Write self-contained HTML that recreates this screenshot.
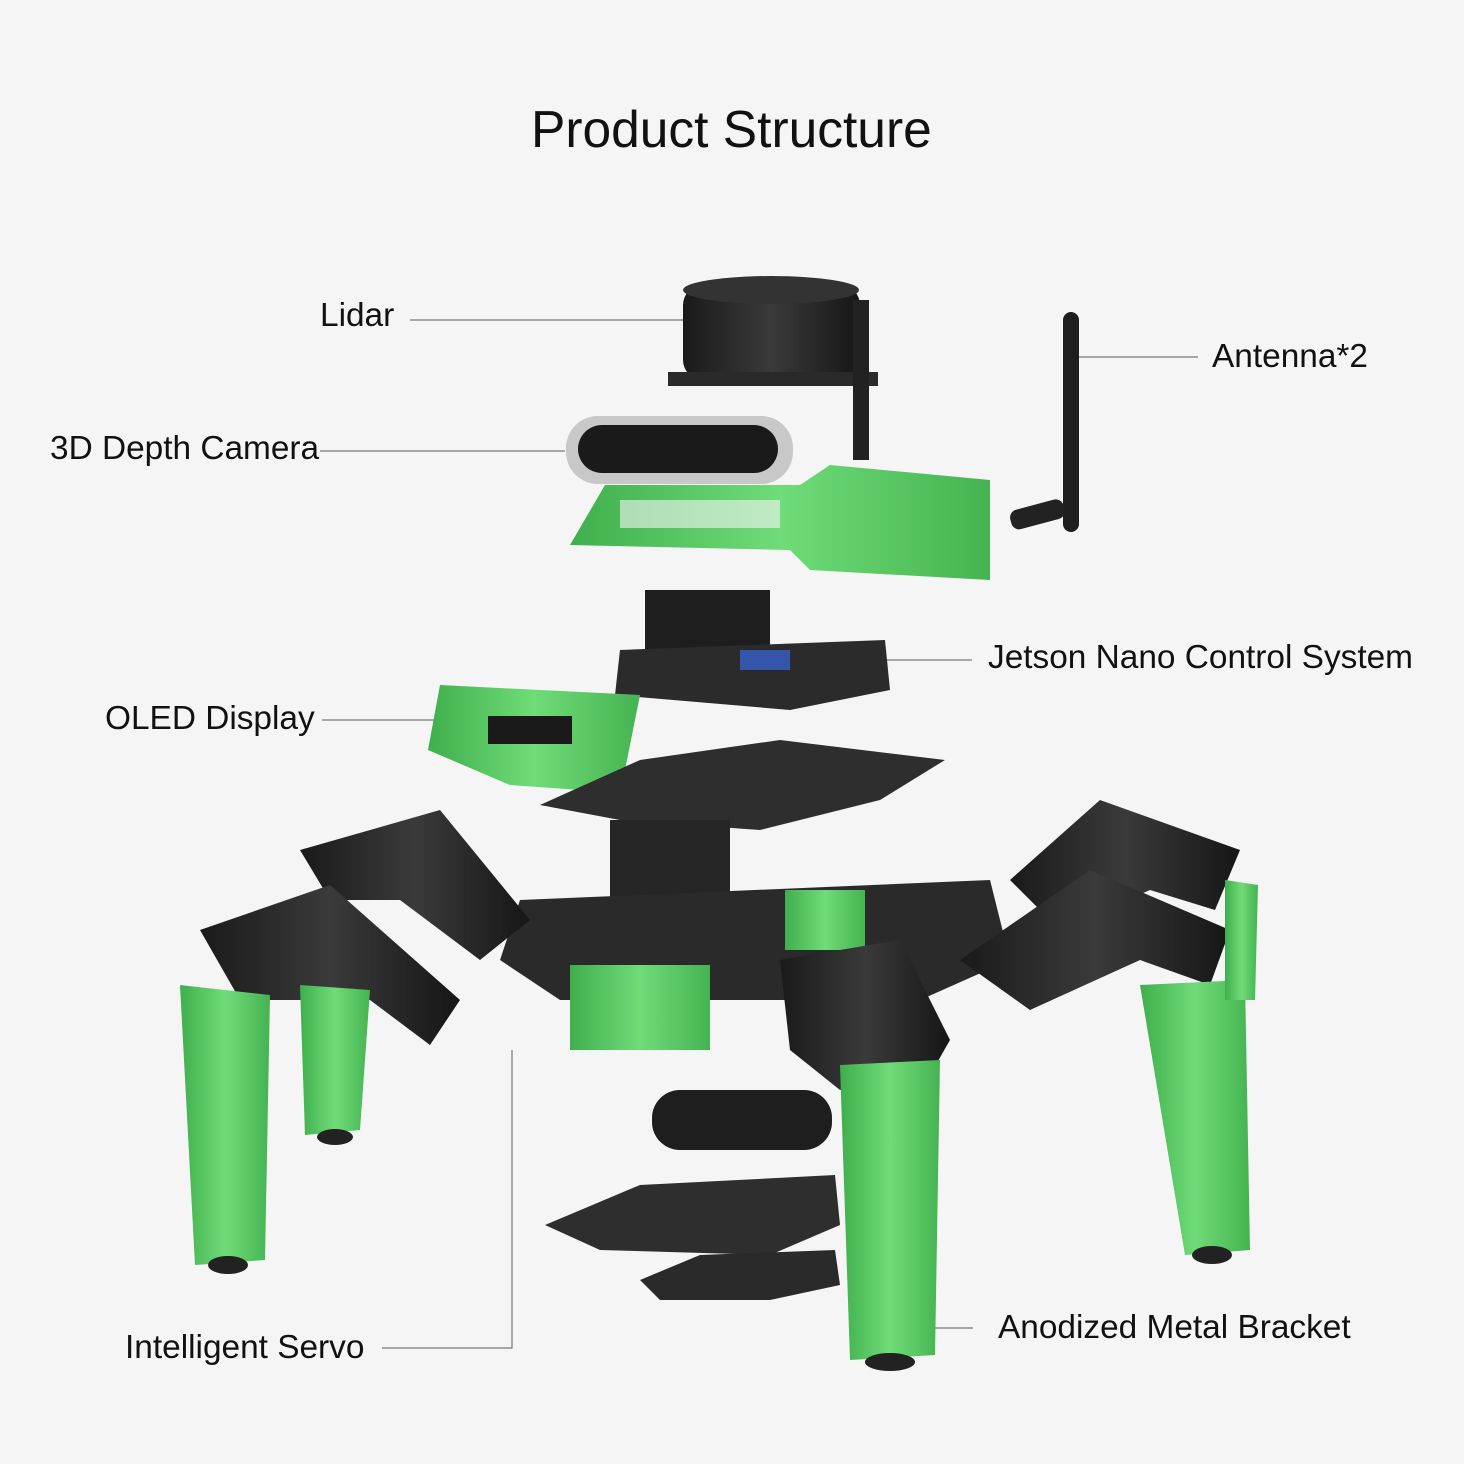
<!DOCTYPE html>
<html><head><meta charset="utf-8"><style>
html,body{margin:0;padding:0;background:#f5f5f5;}
.wrap{position:relative;width:1464px;height:1464px;overflow:hidden;background:#f5f5f5;font-family:"Liberation Sans",sans-serif;color:#111;}
.t{position:absolute;white-space:nowrap;font-size:33.4px;line-height:32px;}
svg{position:absolute;left:0;top:0;}
</style></head><body><div class="wrap">
<svg width="1464" height="1464" viewBox="0 0 1464 1464">
<defs>
<linearGradient id="g" x1="0" x2="1"><stop offset="0" stop-color="#3fae4c"/><stop offset=".5" stop-color="#6fdc78"/><stop offset="1" stop-color="#45b351"/></linearGradient>
<linearGradient id="k" x1="0" x2="1"><stop offset="0" stop-color="#1a1a1a"/><stop offset=".5" stop-color="#3a3a3a"/><stop offset="1" stop-color="#161616"/></linearGradient>
</defs>
<g stroke="#777" stroke-width="1.2" fill="none">
<line x1="410" y1="320" x2="685" y2="320"/>
<line x1="1075" y1="357" x2="1198" y2="357"/>
<line x1="320" y1="451" x2="565" y2="451"/>
<line x1="880" y1="660" x2="972" y2="660"/>
<line x1="322" y1="720" x2="500" y2="720"/>
<polyline points="382,1348 512,1348 512,1050"/>
<line x1="905" y1="1328" x2="973" y2="1328"/>
</g>
<rect x="683" y="285" width="177" height="95" rx="20" fill="url(#k)"/>
<ellipse cx="771" cy="290" rx="88" ry="14" fill="#333"/>
<rect x="668" y="372" width="210" height="14" fill="#2a2a2a"/>
<rect x="853" y="300" width="16" height="160" fill="#222"/>
<rect x="1063" y="312" width="16" height="220" rx="8" fill="#1e1e1e"/>
<rect x="1010" y="505" width="55" height="20" rx="8" fill="#222" transform="rotate(-15 1035 515)"/>
<rect x="566" y="416" width="227" height="68" rx="32" fill="#c8c8c8"/>
<rect x="578" y="425" width="200" height="48" rx="24" fill="#1a1a1a"/>
<polygon points="605,485 800,485 830,465 990,480 990,580 810,570 790,550 570,545" fill="url(#g)"/>
<rect x="620" y="500" width="160" height="28" fill="#f5f5f5" opacity=".6"/>
<rect x="645" y="590" width="125" height="60" fill="#1e1e1e"/>
<polygon points="620,650 885,640 890,690 790,710 615,695" fill="#2b2b2b"/>
<rect x="740" y="650" width="50" height="20" fill="#3355aa"/>
<polygon points="440,685 640,695 625,770 580,790 510,785 428,750" fill="url(#g)"/>
<rect x="488" y="716" width="84" height="28" fill="#1a1a1a"/>
<polygon points="540,805 640,760 780,740 945,760 880,800 760,830 620,820" fill="#2e2e2e"/>
<rect x="610" y="820" width="120" height="80" fill="#262626"/>
<polygon points="520,900 990,880 1010,960 920,1000 560,1000 500,960" fill="#2a2a2a"/>
<rect x="570" y="965" width="140" height="85" fill="url(#g)"/>
<rect x="785" y="890" width="80" height="60" fill="url(#g)"/>
<polygon points="300,850 440,810 530,920 480,960 400,900 330,900" fill="url(#k)"/>
<polygon points="200,930 330,885 460,1000 430,1045 370,1000 240,1000" fill="url(#k)"/>
<polygon points="180,985 270,995 265,1260 195,1265" fill="url(#g)"/>
<polygon points="300,985 370,990 360,1130 305,1135" fill="url(#g)"/>
<ellipse cx="228" cy="1265" rx="20" ry="9" fill="#222"/>
<ellipse cx="335" cy="1137" rx="18" ry="8" fill="#222"/>
<polygon points="1010,880 1100,800 1240,850 1215,910 1150,890 1060,930" fill="url(#k)"/>
<polygon points="960,960 1090,870 1230,930 1210,985 1140,960 1030,1010" fill="url(#k)"/>
<polygon points="1140,985 1245,980 1250,1250 1185,1255" fill="url(#g)"/>
<polygon points="1225,880 1258,885 1255,1000 1225,1000" fill="url(#g)"/>
<ellipse cx="1212" cy="1255" rx="20" ry="9" fill="#222"/>
<polygon points="780,960 900,940 950,1040 930,1075 840,1090 790,1050" fill="url(#k)"/>
<polygon points="840,1065 940,1060 935,1355 850,1360" fill="url(#g)"/>
<ellipse cx="890" cy="1362" rx="25" ry="9" fill="#222"/>
<rect x="652" y="1090" width="180" height="60" rx="28" fill="#1e1e1e"/>
<polygon points="545,1225 640,1185 835,1175 840,1225 770,1255 600,1250" fill="#2e2e2e"/>
<polygon points="640,1280 700,1255 835,1250 840,1285 770,1300 660,1300" fill="#2a2a2a"/>
</svg>
<div class="t" style="left:531px;top:103px;font-size:51.5px;line-height:52px;">Product Structure</div>
<div class="t" style="left:320px;top:300px;">Lidar</div>
<div class="t" style="left:1212px;top:341px;">Antenna*2</div>
<div class="t" style="left:50px;top:433px;">3D Depth Camera</div>
<div class="t" style="left:988px;top:642px;">Jetson Nano Control System</div>
<div class="t" style="left:105px;top:703px;">OLED Display</div>
<div class="t" style="left:125px;top:1332px;">Intelligent Servo</div>
<div class="t" style="left:998px;top:1312px;">Anodized Metal Bracket</div>
</div></body></html>
